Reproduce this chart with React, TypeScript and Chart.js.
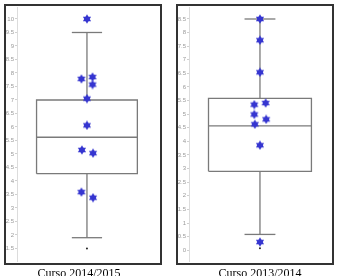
import React, { useEffect, useRef } from "react";
import { Chart, registerables } from "chart.js";

Chart.register(...registerables);

// ---- data ----
const categories = ["Curso 2014/2015", "Curso 2013/2014"];

// [whisker min, q1, median, q3, whisker max]
const summary2015 = [1.9, 4.27, 5.62, 7.0, 9.5];
const summary2014 = [0.58, 2.9, 4.57, 5.58, 8.5];

// individual marks (stars)
const stars2015 = [10.0, 7.78, 7.85, 7.57, 7.05, 6.06, 5.15, 5.03, 3.59, 3.38];
const jitter2015 = [0, -0.11, 0.11, 0.11, 0, 0, -0.1, 0.12, -0.11, 0.12];
const stars2014 = [8.5, 7.72, 6.54, 5.35, 5.41, 4.99, 4.81, 4.63, 3.86, 0.3];
const jitter2014 = [0, 0, 0, -0.11, 0.11, -0.11, 0.12, -0.1, 0, 0];

// small dot below each box
const dot2015 = [1.5];
const dot2014 = [0.07];

const ticks2015 = ["10", "9.5", "9", "8.5", "8", "7.5", "7", "6.5", "6", "5.5", "5", "4.5", "4", "3.5", "3", "2.5", "2", "1.5"];
const ticks2014 = ["8.5", "8", "7.5", "7", "6.5", "6", "5.5", "5", "4.5", "4", "3.5", "3", "2.5", "2", "1.5", "1", "0.5", "0"];

// ---- star image ----
function makeStar(size: number, color: string) {
  const c = document.createElement("canvas");
  c.width = size;
  c.height = size;
  const ctx = c.getContext("2d")!;
  const r = size / 2;
  ctx.fillStyle = color;
  for (const rot of [-Math.PI / 2, Math.PI / 2]) {
    ctx.beginPath();
    for (let k = 0; k < 3; k++) {
      const a = rot + (k * 2 * Math.PI) / 3;
      const x = r + (r - 0.3) * Math.cos(a);
      const y = r + (r - 0.3) * Math.sin(a);
      if (k === 0) ctx.moveTo(x, y);
      else ctx.lineTo(x, y);
    }
    ctx.closePath();
    ctx.fill();
  }
  return c;
}

type PanelProps = {
  summary: number[];
  stars: number[];
  jitter: number[];
  dot: number[];
  ticks: string[];
  yMin: number;
  yMax: number;
  xMin: number;
  xMax: number;
  padRight: number;
  left: number;
  width: number;
};

const BOX_COLOR = "#7a7a7a";

function Panel(p: PanelProps) {
  const ref = useRef<HTMLCanvasElement>(null);
  useEffect(() => {
    const [lo, q1, med, q3, hi] = p.summary;
    const star = makeStar(10, "#3535d0");
    const seg = (pts: { x: number; y: number }[]) => ({
      data: pts,
      showLine: true,
      borderColor: BOX_COLOR,
      borderWidth: 1.3,
      pointRadius: 0,
      fill: false,
      tension: 0,
      order: 2,
    });
    const tickValues = p.ticks.map((t) => parseFloat(t));
    const chart = new Chart(ref.current!, {
      type: "scatter",
      data: {
        datasets: [
          {
            data: p.stars.map((v, i) => ({ x: p.jitter[i], y: v })),
            pointStyle: star as any,
            pointRadius: 5,
            order: 0,
          } as any,
          {
            data: p.dot.map((v) => ({ x: 0, y: v })),
            pointRadius: 1,
            backgroundColor: "#222",
            borderWidth: 0,
            order: 0,
          },
          seg([
            { x: -1, y: q1 },
            { x: 1, y: q1 },
            { x: 1, y: q3 },
            { x: -1, y: q3 },
            { x: -1, y: q1 },
          ]),
          seg([
            { x: -1, y: med },
            { x: 1, y: med },
          ]),
          seg([
            { x: 0, y: q3 },
            { x: 0, y: hi },
          ]),
          seg([
            { x: -0.3, y: hi },
            { x: 0.3, y: hi },
          ]),
          seg([
            { x: 0, y: q1 },
            { x: 0, y: lo },
          ]),
          seg([
            { x: -0.3, y: lo },
            { x: 0.3, y: lo },
          ]),
        ],
      },
      options: {
        animation: false,
        responsive: false,
        devicePixelRatio: 1,
        layout: { padding: { top: 7, bottom: 7, left: 0, right: p.padRight } },
        plugins: { legend: { display: false }, tooltip: { enabled: false } },
        scales: {
          x: { type: "linear", min: p.xMin, max: p.xMax, display: false },
          y: {
            type: "linear",
            min: p.yMin,
            max: p.yMax,
            afterBuildTicks: (scale: any) => {
              scale.ticks = tickValues.map((v) => ({ value: v }));
            },
            afterFit: (scale: any) => {
              scale.width = 13;
            },
            ticks: {
              font: { size: 6, family: "Arial, 'Liberation Sans', sans-serif" },
              color: "#9a9a9a",
              padding: 1,
              autoSkip: false,
              callback: (v: any) => {
                const i = tickValues.indexOf(Number(v));
                return i >= 0 ? p.ticks[i] : "";
              },
            },
            grid: { drawOnChartArea: false, tickLength: 2, color: "#d0d0d0" },
            border: { color: "#dcdcdc" },
          },
        },
      },
    });
    return () => chart.destroy();
  }, []);
  return (
    <canvas
      ref={ref}
      width={p.width}
      height={268}
      style={{ position: "absolute", left: p.left, top: 0, width: p.width, height: 268 }}
    />
  );
}

const frame: React.CSSProperties = {
  position: "absolute",
  top: 4,
  width: 158,
  height: 261,
  boxSizing: "border-box",
  border: "2px solid #333",
};

const caption: React.CSSProperties = {
  position: "absolute",
  top: 266,
  fontFamily: "'Liberation Serif', 'Times New Roman', serif",
  fontSize: 12,
  lineHeight: "14px",
  color: "#000",
  textAlign: "center",
  whiteSpace: "nowrap",
};

export default function App() {
  return (
    <div
      style={{
        position: "fixed",
        left: 0,
        top: 0,
        width: 338,
        height: 276,
        background: "#fff",
        overflow: "hidden",
      }}
    >
      <Panel
        summary={summary2015}
        stars={stars2015}
        jitter={jitter2015}
        dot={dot2015}
        ticks={ticks2015}
        yMin={1.037}
        yMax={10.444}
        xMin={-1.388}
        xMax={1.35}
        padRight={3}
        left={4}
        width={157}
      />
      <Panel
        summary={summary2014}
        stars={stars2014}
        jitter={jitter2014}
        dot={dot2014}
        ticks={ticks2014}
        yMin={-0.397}
        yMax={8.941}
        xMin={-1.379}
        xMax={1.322}
        padRight={4}
        left={176}
        width={158}
      />
      <div style={{ ...frame, left: 4 }} />
      <div style={{ ...frame, left: 176 }} />
      <div style={{ ...caption, left: 0, width: 158 }}>{categories[0]}</div>
      <div style={{ ...caption, left: 200, width: 120 }}>{categories[1]}</div>
    </div>
  );
}
